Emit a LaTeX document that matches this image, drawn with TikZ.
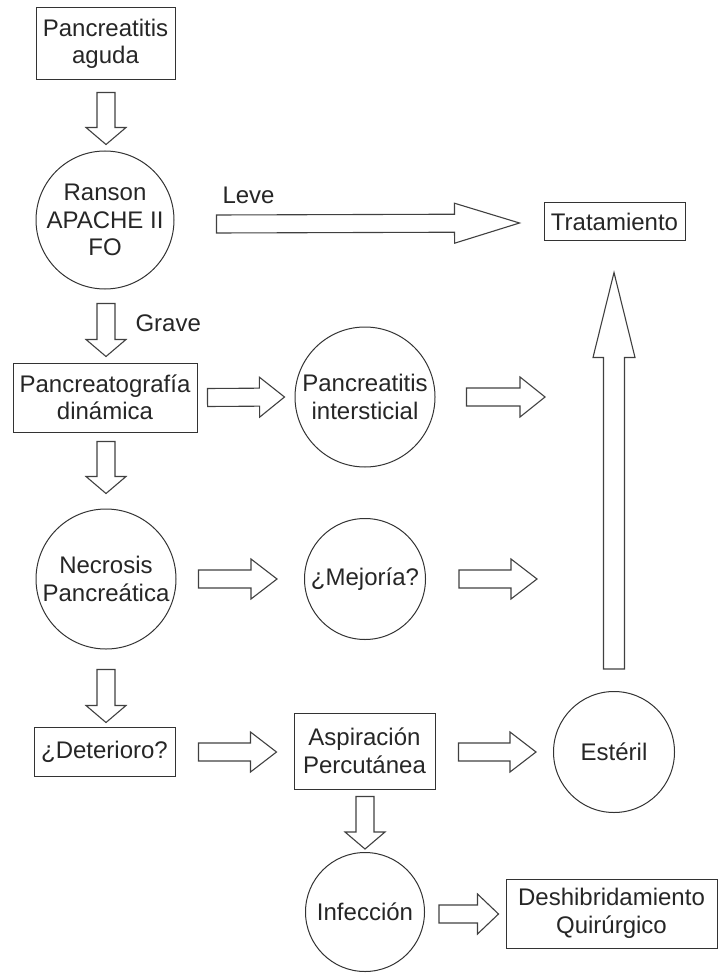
\documentclass[tikz,border=0pt]{standalone}
\usepackage{fontspec}
\setmainfont{Liberation Sans}
\usetikzlibrary{calc}

\begin{document}
\begin{tikzpicture}[x=1pt,y=-1pt,line width=1pt,
  txt/.style={font=\fontsize{24}{27.5}\selectfont,text=black!85,align=center},
  box/.style={txt,draw=black!80,inner sep=2pt},
  circ/.style={txt,draw=black!80,circle,inner sep=0pt},
  lab/.style={txt,anchor=west,inner sep=0pt},
  head len/.store in=\hlen,shaft w/.store in=\hsw,head w/.store in=\hhw,
  head len=17,shaft w=9,head w=20,
  hollow/.style={draw=black!75,line width=1.1pt,line join=miter,to path={
    let \p1=(\tikztostart),\p2=(\tikztotarget),
        \n1={veclen(\x2-\x1,\y2-\y1)},\n2={(\x2-\x1)/\n1},\n3={(\y2-\y1)/\n1} in
    ({\x1-\hsw*\n3},{\y1+\hsw*\n2})
    -- ({\x1+(\n1-\hlen)*\n2-\hsw*\n3},{\y1+(\n1-\hlen)*\n3+\hsw*\n2})
    -- ({\x1+(\n1-\hlen)*\n2-\hhw*\n3},{\y1+(\n1-\hlen)*\n3+\hhw*\n2})
    -- (\p2)
    -- ({\x1+(\n1-\hlen)*\n2+\hhw*\n3},{\y1+(\n1-\hlen)*\n3-\hhw*\n2})
    -- ({\x1+(\n1-\hlen)*\n2+\hsw*\n3},{\y1+(\n1-\hlen)*\n3-\hsw*\n2})
    -- ({\x1+\hsw*\n3},{\y1-\hsw*\n2}) -- cycle}}]
\useasboundingbox (0,0) rectangle (718,973);

% nodes
\node (pa) [box,minimum width=139pt,minimum height=72pt] at (105.5,44) {Pancreatitis\\aguda};
\node (rs) [circ,minimum size=138pt] at (105,220) {Ranson\\APACHE II\\FO};
\node (tr) [box,minimum width=141pt,minimum height=38pt] at (614.5,222) {Tratamiento};
\node (pd) [box,minimum width=184pt,minimum height=69pt] at (105,397.5) {Pancreatograf\'ia\\din\'amica};
\node (pi) [circ,minimum size=140pt] at (365,397) {Pancreatitis\\intersticial};
\node (np) [circ,minimum size=140pt] at (106,579) {Necrosis\\Pancre\'atica};
\node (mj) [circ,minimum size=121pt] at (365,579) {¿Mejor\'ia?};
\node (dt) [box,minimum width=141pt,minimum height=49pt] at (104.5,751.5) {¿Deterioro?};
\node (ap) [box,minimum width=141pt,minimum height=76pt] at (364.5,751) {Aspiraci\'on\\Percut\'anea};
\node (es) [circ,minimum size=121pt] at (614,752) {Est\'eril};
\node (in) [circ,minimum size=119pt] at (365,912) {Infecci\'on};
\node (dq) [box,minimum width=211pt,minimum height=69pt] at (611.5,913.5) {Deshibridamiento\\Quir\'urgico};
\node (lv) [lab] at (222,195) {Leve};
\node (gr) [lab] at (135,323) {Grave};
\coordinate (e1) at (545,397);
\coordinate (e2) at (537,579);

% hollow arrows
\draw[hollow] ($(pa.south)+(0.5,12)$) to ($(rs.north)+(1,-6)$);
\draw[hollow,head len=65] ($(rs.east)+(42,4)$) to ($(tr.west)+(-24,1)$);
\draw[hollow] ($(rs.south)+(1,14)$) to ($(pd.north)+(1,-6)$);
\draw[hollow,head len=25] ($(pd.east)+(10,0)$) to ($(pi.west)+(-10,0)$);
\draw[hollow,head len=25] ($(pi.east)+(31,0)$) to (e1);
\draw[hollow] ($(pd.south)+(1,9)$) to ($(np.north)+(0,-15)$);
\draw[hollow,head len=26] ($(np.east)+(22,0)$) to ($(mj.west)+(-27,0)$);
\draw[hollow,head len=26] ($(mj.east)+(33,0)$) to (e2);
\draw[hollow] ($(np.south)+(0,20)$) to ($(dt.north)+(1.5,-4)$);
\draw[hollow,head len=26] ($(dt.east)+(23,0.5)$) to ($(ap.west)+(-17,1)$);
\draw[hollow,head len=26] ($(ap.east)+(23,1)$) to ($(es.west)+(-17,0)$);
\draw[hollow] ($(ap.south)+(0.5,7)$) to ($(in.north)+(0,-3)$);
\draw[hollow,head len=21] ($(in.east)+(14,2)$) to ($(dq.west)+(-7,0.5)$);
\draw[hollow,head len=85,shaft w=10.5,head w=21] ($(es.north)+(0,-22)$) to ($(tr.south)+(-0.5,31)$);
\end{tikzpicture}
\end{document}
